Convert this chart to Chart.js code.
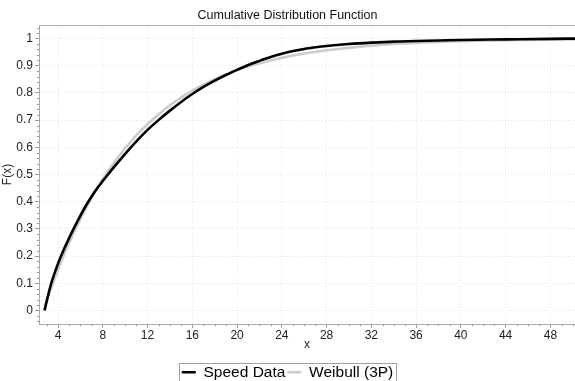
<!DOCTYPE html>
<html>
<head>
<meta charset="utf-8">
<script src="https://cdn.jsdelivr.net/npm/chart.js@4.4.1/dist/chart.umd.min.js"></script>
<style>
  html, body { margin: 0; padding: 0; background: #fff; }
  #wrap { width: 575px; height: 381px; }
</style>
</head>
<body>
<div id="wrap"><canvas id="cdf" width="575" height="381"></canvas></div>
<script>
// CDF of wind speed data vs fitted 3-parameter Weibull

const speedX = [2.8, 3.0, 3.4, 4, 4.5, 5, 5.5, 6, 6.5, 7, 7.5, 8, 8.5, 9, 10, 11, 12, 13, 14, 15, 16, 17, 18, 19, 20, 21, 22, 23, 24, 25, 26, 27, 28, 30, 32, 34, 36, 38, 40, 44, 48, 50.2];
const speedY = [0, 0.036, 0.1, 0.172, 0.222, 0.267, 0.309, 0.349, 0.386, 0.419, 0.449, 0.476, 0.502, 0.527, 0.576, 0.622, 0.664, 0.701, 0.735, 0.767, 0.796, 0.822, 0.845, 0.866, 0.885, 0.903, 0.918, 0.932, 0.944, 0.954, 0.962, 0.968, 0.973, 0.980, 0.985, 0.989, 0.991, 0.993, 0.995, 0.997, 0.999, 1.0];

const weibullX = [2.75, 3, 3.5, 4, 5, 6, 7, 8, 9, 10, 11, 12, 13, 14, 16, 18, 20, 22, 24, 26, 28, 30, 32, 34, 36, 38, 40, 44, 48, 50.2];
const weibullY = [0, 0.037, 0.095, 0.149, 0.249, 0.337, 0.414, 0.483, 0.543, 0.597, 0.644, 0.685, 0.722, 0.755, 0.809, 0.851, 0.884, 0.909, 0.929, 0.945, 0.957, 0.966, 0.974, 0.980, 0.984, 0.988, 0.990, 0.994, 0.996, 0.997];

const xTicks = [4, 8, 12, 16, 20, 24, 28, 32, 36, 40, 44, 48];
const yTicks = [0, 0.1, 0.2, 0.3, 0.4, 0.5, 0.6, 0.7, 0.8, 0.9, 1];

const toPoints = (xs, ys) => xs.map((x, i) => ({ x: x, y: ys[i] }));

const FONT = 'Liberation Sans, Arial, sans-serif';
const PAD_BOTTOM = -9;
const PLOT_BOTTOM = 324;

// frame on top + minor ticks + legend border
const extras = {
  id: 'extras',
  afterDraw(chart){
    const ctx = chart.ctx;
    const a = chart.chartArea;
    const xs = chart.scales.x, ys = chart.scales.y;
    ctx.save();
    ctx.strokeStyle = '#b4b4b4';
    ctx.lineWidth = 1;
    ctx.beginPath();
    ctx.moveTo(a.left, a.top + 0.5);
    ctx.lineTo(a.right, a.top + 0.5);
    ctx.stroke();

    // minor ticks
    ctx.strokeStyle = '#999';
    ctx.beginPath();
    for (let v = 3; v <= 50; v++){
      if (v % 4 === 0) continue;
      const px = Math.round(xs.getPixelForValue(v)) + 0.5;
      ctx.moveTo(px, a.bottom);
      ctx.lineTo(px, a.bottom + 2);
    }
    for (let k = -2; k <= 52; k++){
      if (k % 5 === 0) continue;
      const v = k / 50;
      if (v < ys.min || v > ys.max) continue;
      const py = Math.round(ys.getPixelForValue(v)) + 0.5;
      ctx.moveTo(a.left - 2, py);
      ctx.lineTo(a.left, py);
    }
    ctx.stroke();

    // legend border
    const boxes = chart.legend && chart.legend.legendHitBoxes;
    if (boxes && boxes.length){
      const l = boxes[0].left - 3;
      const r = boxes[boxes.length - 1].left + boxes[boxes.length - 1].width + 3;
      const t = boxes[0].top - 2;
      ctx.strokeStyle = '#a0a0a0';
      ctx.strokeRect(Math.round(l) + 0.5, Math.round(t) + 0.5, Math.round(r - l), 40);
    }
    ctx.restore();
  }
};

new Chart(document.getElementById('cdf'), {
  type: 'line',
  data: {
    datasets: [
      {
        label: 'Speed Data',
        data: toPoints(speedX, speedY),
        borderColor: '#000000',
        backgroundColor: '#000000',
        borderWidth: 2.6,
        pointRadius: 0,
        cubicInterpolationMode: 'monotone',
        fill: false
      },
      {
        label: 'Weibull (3P)',
        data: toPoints(weibullX, weibullY),
        borderColor: '#cccccc',
        backgroundColor: '#cccccc',
        borderWidth: 2.6,
        pointRadius: 0,
        cubicInterpolationMode: 'monotone',
        fill: false
      }
    ]
  },
  options: {
    responsive: false,
    animation: false,
    events: [],
    layout: { padding: { left: 0, right: 0, top: 0, bottom: PAD_BOTTOM } },
    plugins: {
      title: {
        display: true,
        text: 'Cumulative Distribution Function',
        color: '#111',
        font: { family: FONT, size: 12.5, weight: 'normal' },
        padding: { top: 8, bottom: 2 }
      },
      legend: {
        display: true,
        position: 'bottom',
        labels: {
          usePointStyle: true,
          pointStyleWidth: 14,
          pointStyle: 'line',
          color: '#000',
          font: { family: FONT, size: 15.5, lineHeight: 1.15 },
          padding: 2
        }
      },
      tooltip: { enabled: false }
    },
    scales: {
      x: {
        type: 'linear',
        min: 2.3,
        max: 50.2,
        afterBuildTicks: s => { s.ticks = xTicks.map(v => ({ value: v })); },
        afterFit: s => {
          const lh = s.chart.legend ? s.chart.legend.height : 0;
          s.height = 381 - PAD_BOTTOM - lh - PLOT_BOTTOM;
        },
        ticks: {
          autoSkip: false,
          maxRotation: 0,
          color: '#222',
          font: { family: FONT, size: 12 },
          padding: 0,
          callback: v => String(v)
        },
        grid: {
          color: '#e4e4e4',
          tickColor: '#999',
          tickLength: 4,
          lineWidth: 1
        },
        border: { color: '#a8a8a8', dash: [1, 2] },
        title: {
          display: true,
          text: 'x',
          color: '#222',
          font: { family: FONT, size: 12 },
          padding: { top: 0, bottom: 11 }
        }
      },
      y: {
        type: 'linear',
        min: -0.05,
        max: 1.05,
        afterBuildTicks: s => { s.ticks = yTicks.map(v => ({ value: v })); },
        afterFit: s => { s.width = 39; },
        ticks: {
          color: '#222',
          font: { family: FONT, size: 12 },
          padding: 2,
          callback: v => String(v)
        },
        grid: {
          color: '#e4e4e4',
          tickColor: '#999',
          tickLength: 4,
          lineWidth: 1
        },
        border: { color: '#a8a8a8', dash: [1, 2] },
        title: {
          display: true,
          text: 'F(x)',
          color: '#222',
          font: { family: FONT, size: 12 },
          padding: { top: 0, bottom: 0 }
        }
      }
    }
  },
  plugins: [extras]
});
</script>
</body>
</html>
